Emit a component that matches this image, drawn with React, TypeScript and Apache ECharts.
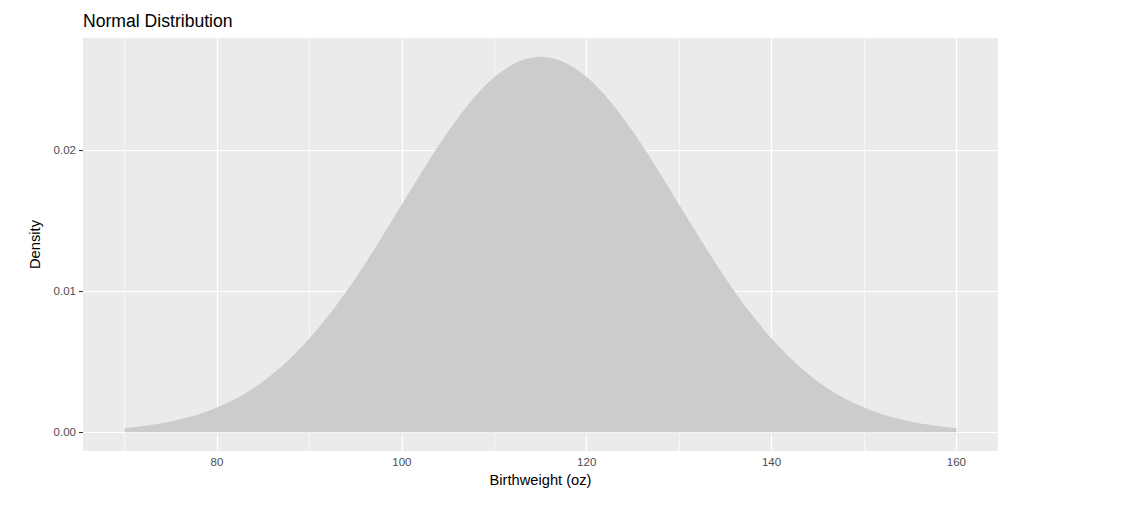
import React, { useEffect, useRef } from "react";
import * as echarts from "echarts";

const birthweight = [
  70, 72.5, 75, 77.5, 80, 82.5, 85, 87.5, 90, 92.5, 95, 97.5, 100, 102.5, 105, 107.5, 110, 112.5,
  115, 117.5, 120, 122.5, 125, 127.5, 130, 132.5, 135, 137.5, 140, 142.5, 145, 147.5, 150, 152.5,
  155, 157.5, 160,
];
const density = [
  0.000296, 0.00048, 0.00076, 0.001169, 0.001748, 0.002543, 0.003599, 0.004954, 0.006632, 0.008634,
  0.010934, 0.013467, 0.016131, 0.018794, 0.021297, 0.023471, 0.025159, 0.026229, 0.026596,
  0.026229, 0.025159, 0.023471, 0.021297, 0.018794, 0.016131, 0.013467, 0.010934, 0.008634,
  0.006632, 0.004954, 0.003599, 0.002543, 0.001748, 0.001169, 0.00076, 0.00048, 0.000296,
];
const xMajor = [80, 100, 120, 140, 160];
const xMinor = [70, 90, 110, 130, 150];
const yMajor = [0, 0.01, 0.02];
const yMinor = [0.005, 0.015, 0.025];
const yLabels = ["0.00", "0.01", "0.02"];

const FONT = "Liberation Sans, Arial, Helvetica, sans-serif";

export default function App() {
  const ref = useRef<HTMLDivElement>(null);
  useEffect(() => {
    if (!ref.current) return;
    const chart = echarts.init(ref.current, null, { renderer: "svg" });
    const gridLine = (axis: "xAxis" | "yAxis", v: number, w: number) => ({
      [axis]: v,
      lineStyle: { color: "#FFFFFF", width: w, type: "solid" },
    });
    chart.setOption({
      animation: false,
      backgroundColor: "#FFFFFF",
      title: {
        text: "Normal Distribution",
        left: 78,
        top: 7,
        textStyle: { fontFamily: FONT, fontSize: 17.6, fontWeight: "normal", color: "#000000" },
      },
      grid: { left: 83, right: 124, top: 38, bottom: 63, show: true, backgroundColor: "#EBEBEB", borderWidth: 0 },
      xAxis: {
        type: "value",
        min: 65.5,
        max: 164.5,
        axisLine: { show: false },
        splitLine: { show: false },
        axisTick: { show: true, customValues: xMajor, length: 4, lineStyle: { color: "#333333", width: 1.1 } },
        axisLabel: {
          customValues: xMajor,
          color: "#4D4D4D",
          fontFamily: FONT,
          fontSize: 11.5,
          margin: 5,
        },
        name: "Birthweight (oz)",
        nameLocation: "middle",
        nameGap: 18,
        nameTextStyle: { fontFamily: FONT, fontSize: 14.7, color: "#000000" },
      },
      yAxis: {
        type: "value",
        min: -0.00133,
        max: 0.02793,
        axisLine: { show: false },
        splitLine: { show: false },
        axisTick: { show: true, customValues: yMajor, length: 4, lineStyle: { color: "#333333", width: 1.1 } },
        axisLabel: {
          customValues: yMajor,
          formatter: (v: number) => {
            const i = yMajor.findIndex((m) => Math.abs(m - v) < 1e-9);
            return i >= 0 ? yLabels[i] : "";
          },
          color: "#4D4D4D",
          fontFamily: FONT,
          fontSize: 11.5,
          margin: 7,
        },
        name: "Density",
        nameLocation: "middle",
        nameGap: 31,
        nameRotate: 90,
        nameTextStyle: { fontFamily: FONT, fontSize: 14.7, color: "#000000" },
      },
      series: [
        {
          type: "line",
          z: 1,
          data: [[birthweight[0], density[0]]],
          symbol: "none",
          lineStyle: { opacity: 0 },
          silent: true,
          markLine: {
            z: 1,
            silent: true,
            symbol: ["none", "none"],
            label: { show: false },
            data: [
              ...xMinor.map((v) => gridLine("xAxis", v, 0.6)),
              ...yMinor.map((v) => gridLine("yAxis", v, 0.6)),
              ...xMajor.map((v) => gridLine("xAxis", v, 1.2)),
              ...yMajor.map((v) => gridLine("yAxis", v, 1.2)),
            ],
          },
        },
        {
          type: "line",
          z: 10,
          data: birthweight.map((x, i) => [x, density[i]]),
          symbol: "none",
          smooth: 0.3,
          lineStyle: { width: 0 },
          areaStyle: { color: "#CCCCCC", opacity: 1 },
          silent: true,
        },
      ],
    });
    return () => chart.dispose();
  }, []);
  return <div ref={ref} style={{ width: 1122, height: 514, position: "absolute", left: 0, top: 0 }} />;
}
